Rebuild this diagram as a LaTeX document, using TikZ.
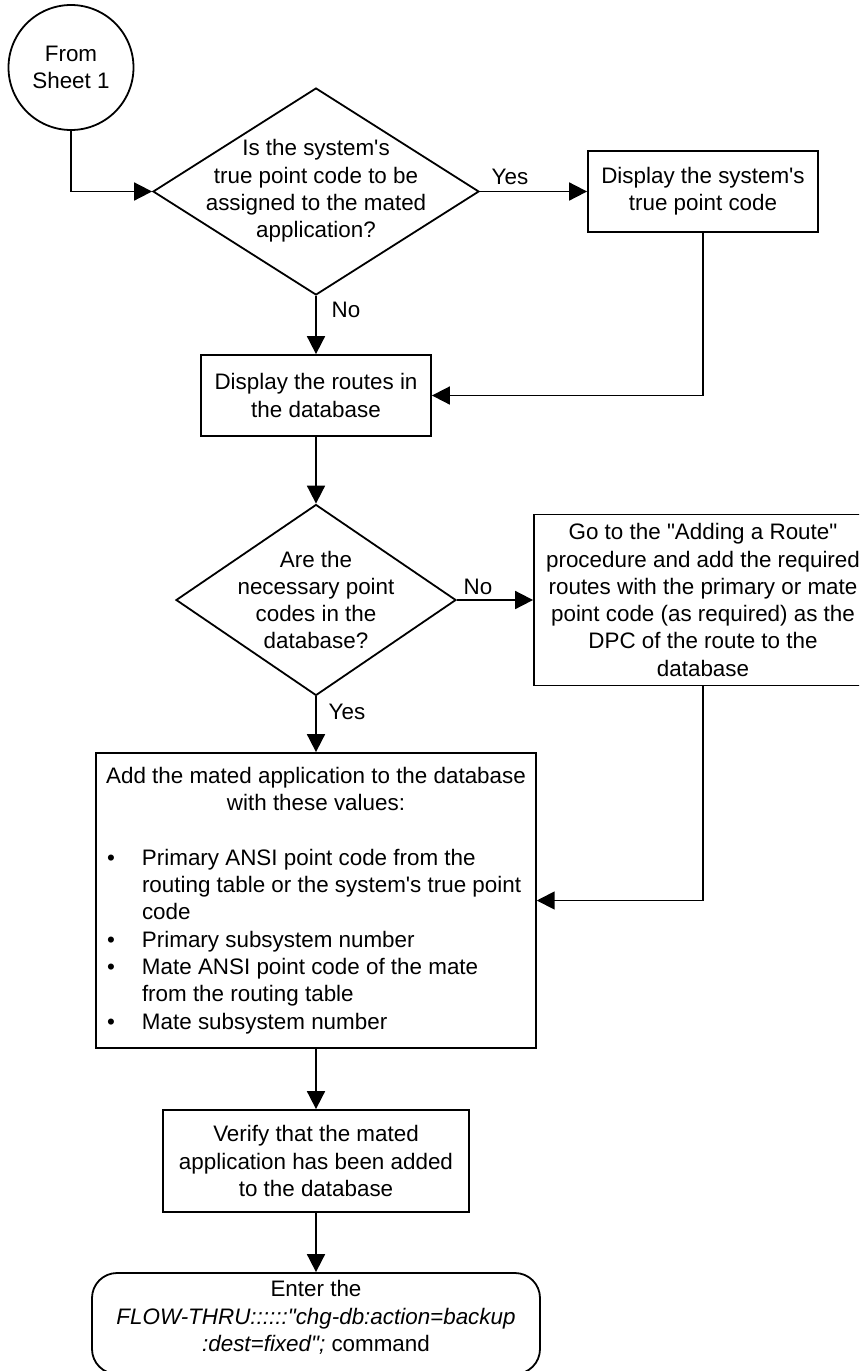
\documentclass[tikz,border=0pt]{standalone}
\usepackage{fontspec}
\newfontfamily\arialf{Liberation Sans}
\usetikzlibrary{shapes.geometric,arrows.meta}
\newcommand\bitem[1]{\makebox[209pt][l]{\makebox[17.5pt][l]{\textbullet}#1}}
\newcommand\citem[1]{\makebox[209pt][l]{\hspace*{17.5pt}#1}}
\begin{document}
\begin{tikzpicture}[x=0.5pt,y=-0.5pt,
  every node/.style={font=\arialf\fontsize{11.2pt}{13.65pt}\selectfont},
  arr/.style={line width=0.9pt,-{Triangle[length=9pt,width=9pt]}},
  box/.style={draw,line width=0.9pt,rectangle,align=center,inner sep=2pt},
  dia/.style={draw,line width=0.9pt,diamond,inner sep=0pt},
  txt/.style={align=center,inner sep=0pt},
  lbl/.style={inner sep=0pt}]
\useasboundingbox (0,0) rectangle (859,1371);
\clip (0,0) rectangle (859,1371);

\node[draw,circle,line width=0.9pt,minimum size=62.5pt,inner sep=0pt,align=center] (from) at (71,67.5) {From\\Sheet 1};

\node[dia,minimum width=163pt,minimum height=103.5pt] (d1) at (316,191.5) {};
\node[txt] (d1t) at (316,191) {Is the system's\\true point code to be\\assigned to the mated\\application?};

\node[box,minimum width=115pt,minimum height=40.5pt] (b1) at (703,191.5) {Display the system's\\true point code};

\node[box,minimum width=115pt,minimum height=40.5pt] (b2) at (316,395.5) {Display the routes in\\the database};

\node[dia,minimum width=140pt,minimum height=95.5pt] (d2) at (316,600) {};
\node[txt] (d2t) at (316,600) {Are the\\necessary point\\codes in the\\database?};

\node[box,minimum width=169pt,minimum height=85.5pt] (b3) at (703,600) {Go to the "Adding a Route"\\procedure and add the required\\routes with the primary or mate\\point code (as required) as the\\DPC of the route to the\\database};

\node[box,minimum width=219pt,minimum height=147.5pt,inner sep=5pt] (add) at (316,900.5) {Add the mated application to the database\\with these values:\\[13.65pt]\bitem{Primary ANSI point code from the}\\\citem{routing table or the system's true point}\\\citem{code}\\\bitem{Primary subsystem number}\\\bitem{Mate ANSI point code of the mate}\\\citem{from the routing table}\\\bitem{Mate subsystem number}};

\node[box,minimum width=153pt,minimum height=51pt] (ver) at (316,1161) {Verify that the mated\\application has been added\\to the database};

\node[draw,line width=0.9pt,rectangle,rounded corners=12.5pt,minimum width=224pt,minimum height=50.5pt,inner sep=0pt] (enter) at (316,1323.5) {};
\node[txt] (entert) at (316,1317.5) {Enter the\\\textit{FLOW-THRU::::::"chg-db:action=backup}\\\textit{:dest=fixed";} command};

\node[lbl] (yes1) at (510,177) {Yes};
\node[lbl] (no1) at (346,310) {No};
\node[lbl] (no2) at (478,587) {No};
\node[lbl] (yes2) at (347,712) {Yes};

\draw[arr] (from.south) |- (d1.west);
\draw[arr] (d1.east) -- (b1.west);
\draw[arr] (d1.south) -- (b2.north);
\draw[arr] (b1.south) |- (b2.east);
\draw[arr] (b2.south) -- (d2.north);
\draw[arr] (d2.east) -- (b3.west);
\draw[arr] (d2.south) -- (add.north);
\draw[arr] (b3.south) |- (add.east);
\draw[arr] (add.south) -- (ver.north);
\draw[arr] (ver.south) -- (enter.north);
\end{tikzpicture}
\end{document}
